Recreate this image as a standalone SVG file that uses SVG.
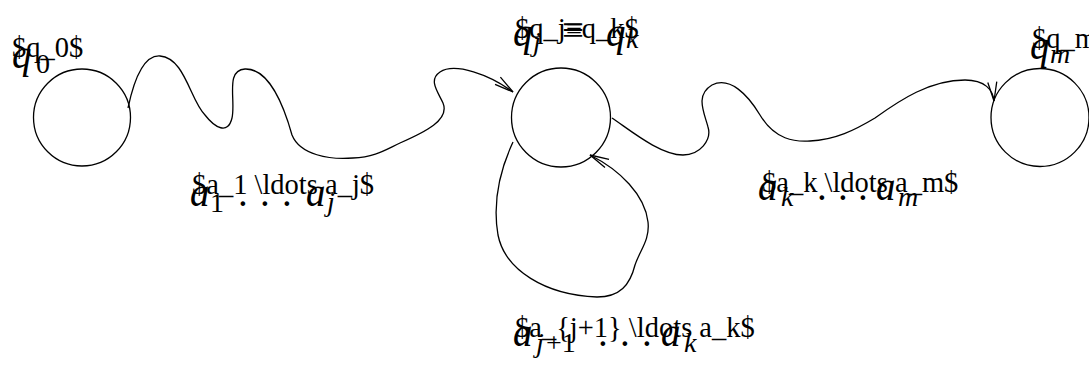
<svg xmlns="http://www.w3.org/2000/svg" width="1089" height="365" viewBox="0 0 1089 365">
<style>
.st{fill:none;stroke:#000;stroke-width:1.3}
text{font-family:"Liberation Serif","Times New Roman","DejaVu Serif",serif;fill:#000}
.r{font-size:28.5px}
.m{font-style:italic;font-size:39px}
.s{font-style:italic;font-size:28px}
.u{font-size:28px}
.o{font-size:39px}
</style>
<defs>
<marker id="arr" markerUnits="userSpaceOnUse" markerWidth="30" markerHeight="20" viewBox="-22 -10 30 20" refX="0" refY="0" orient="auto">
<path d="M-19,-4.5 L0,0 L-19,4.5" fill="none" stroke="#000" stroke-width="1.3"/>
</marker>
</defs>
<rect width="1089" height="365" fill="#fff"/>
<g id="connectors">
<path class="st" marker-end="url(#arr)" d="M128,108 C135,75 145,55 160,56 C185,58 190,100 205,115 C215,128 228,135 232,118 C236,100 225,70 245,69 C270,68 285,110 292,135 C300,155 330,160 353,158 C375,157 385,150 400,143 C425,132 450,120 443,103 C438,92 428,80 440,72 C455,62 490,75 513,92"/>
<path class="st" marker-end="url(#arr)" d="M612,118 C630,130 660,155 683,155 C700,155 712,140 708,127 C704,112 695,95 712,85 C730,76 748,95 760,115 C775,140 795,142 810,141 C835,140 855,130 875,118 C900,100 930,80 965,80 C985,80 993,90 994,101"/>
<path class="st" marker-end="url(#arr)" d="M513,142 C500,170 492,200 498,235 C505,270 545,295 597,297 C620,297 630,285 635,265 C640,250 650,240 648,222 C645,195 620,170 590,155"/>
</g>
<g id="edge-labels">
<g id="label-a1-aj">
<text class="r" x="192" y="194">$a_1 \ldots a_j$</text>
<text class="m" x="190" y="206">a</text><text class="u" x="210" y="212">1</text>
<text class="o" x="238" y="206">.</text><text class="o" x="260" y="206">.</text><text class="o" x="282" y="206">.</text>
<text class="m" x="306" y="206">a</text><text class="s" x="327" y="211">j</text>
</g>
<g id="label-ak-am">
<text class="r" x="762" y="192">$a_k \ldots a_m$</text>
<text class="m" x="758" y="200">a</text><text class="s" x="781" y="206">k</text>
<text class="o" x="817" y="200">.</text><text class="o" x="838" y="200">.</text><text class="o" x="858" y="200">.</text>
<text class="m" x="876" y="200">a</text><text class="s" x="898" y="206">m</text>
</g>
<g id="label-aj1-ak">
<text class="r" x="515" y="337">$a_{j+1} \ldots a_k$</text>
<text class="m" x="513" y="346">a</text><text class="s" x="536" y="352">j</text><text class="u" x="546" y="352">+1</text>
<text class="o" x="598" y="346">.</text><text class="o" x="620" y="346">.</text><text class="o" x="642" y="346">.</text>
<text class="m" x="661" y="346">a</text><text class="s" x="684" y="352">k</text>
</g>
</g>
<g id="q0">
<circle class="st" cx="82" cy="117.5" r="48.5"/>
<text class="r" x="12" y="57">$q_0$</text>
<text class="m" x="12" y="68">q</text><text class="u" x="36" y="73">0</text>
</g>
<g id="qj">
<circle class="st" cx="561" cy="117.5" r="49.5"/>
<text class="r" x="515" y="38">$q_j≡q_k$</text>
<text class="m" x="513" y="46">q</text><text class="s" x="533" y="51">j</text>
<text class="o" x="562" y="43">≡</text>
<text class="m" x="606" y="46">q</text><text class="s" x="626" y="48">k</text>
</g>
<g id="qm">
<circle class="st" cx="1040" cy="117.5" r="49"/>
<text class="r" x="1032" y="48">$q_m$</text>
<text class="m" x="1030" y="59">q</text><text class="s" x="1050" y="63">m</text>
</g>
</svg>
